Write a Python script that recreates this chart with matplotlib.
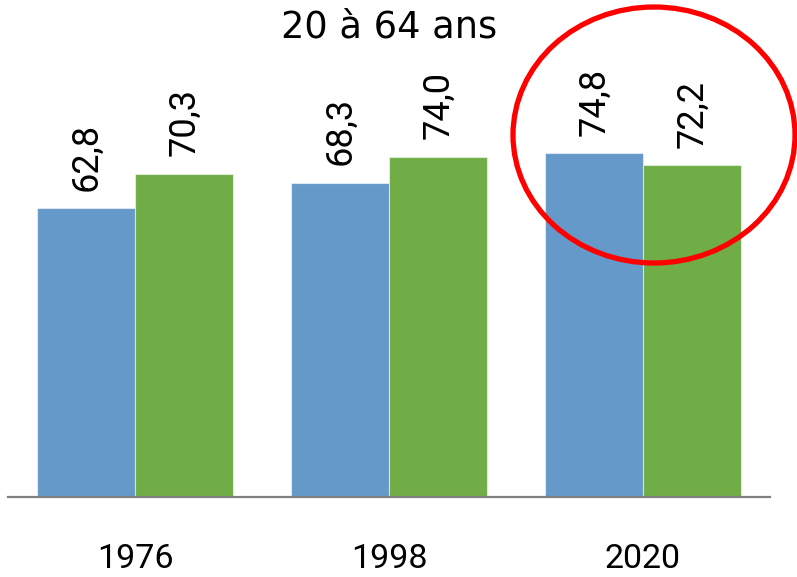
import matplotlib
matplotlib.use("Agg")
import matplotlib.pyplot as plt
from matplotlib.patches import Ellipse
import numpy as np

years = ["1976", "1998", "2020"]
series_a = [62.8, 68.3, 74.8]   # blue
series_b = [70.3, 74.0, 72.2]   # green
title = "20 à 64 ans"

def fmt(v):
    return f"{v:.1f}".replace(".", ",")

W, H = 797, 577
fig = plt.figure(figsize=(W / 100, H / 100), dpi=100)
ax = fig.add_axes([8 / W, 80 / H, 762 / W, 460 / H])

x = np.arange(len(years))
bw = 0.386
blue = "#6599C9"
green = "#70AD47"
b1 = ax.bar(x - bw / 2, series_a, bw, color=blue, edgecolor=(1, 1, 1, 0.55), linewidth=0.8)
b2 = ax.bar(x + bw / 2, series_b, bw, color=green, edgecolor=(1, 1, 1, 0.55), linewidth=0.8)

for bars, vals in ((b1, series_a), (b2, series_b)):
    for rect, v in zip(bars, vals):
        ax.annotate(fmt(v), (rect.get_x() + rect.get_width() / 2, v),
                    xytext=(0, 12.5), textcoords="offset points",
                    rotation=90, ha="center", va="bottom",
                    fontsize=26, family="Roboto", color="black")

ax.set_xlim(-0.5, 2.5)
ax.set_ylim(0, 100)
ax.set_xticks(x)
ax.set_xticklabels(years, fontsize=24.5, family="Roboto")
ax.tick_params(axis="x", length=0, pad=33)
ax.set_yticks([])
for s in ("left", "right", "top"):
    ax.spines[s].set_visible(False)
ax.spines["bottom"].set_color("#808080")
ax.spines["bottom"].set_linewidth(1.6)

fig.text(389 / W, 1 - 37 / H, title, ha="center", va="baseline",
         fontsize=26.5, family="DejaVu Sans", color="black")

ell = Ellipse((654 / W, 1 - 135 / H), 282 / W, 256 / H,
              transform=fig.transFigure, fill=False, edgecolor="#FF0000",
              linewidth=3.8, zorder=10)
fig.add_artist(ell)

fig.savefig("out.png", dpi=100)
